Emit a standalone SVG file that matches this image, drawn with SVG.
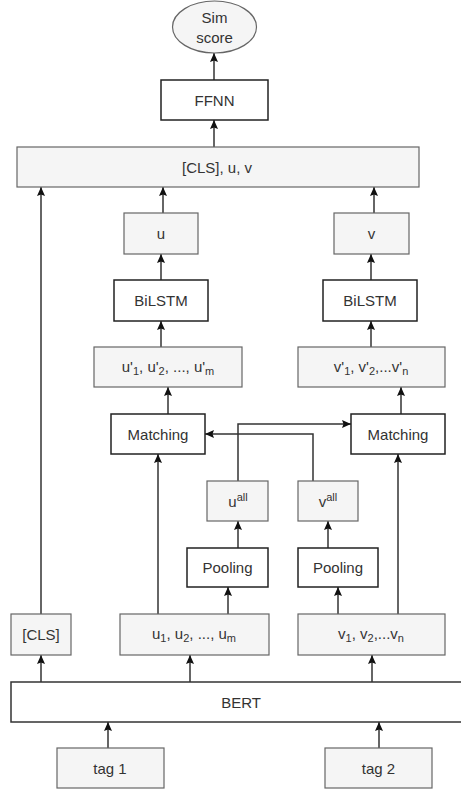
<svg xmlns="http://www.w3.org/2000/svg" width="461" height="789" viewBox="0 0 461 789">
<style>
.g{fill:#f5f5f5;stroke:#666;stroke-width:1.2}
.w{fill:#fff;stroke:#222;stroke-width:1.5}
text{font-family:"Liberation Sans",Arial,sans-serif;font-size:15px;fill:#333;text-anchor:middle}
.s{font-size:11px}
.c path{fill:none;stroke:#333;stroke-width:1.5;marker-end:url(#a)}
</style>
<defs>
<marker id="a" markerUnits="userSpaceOnUse" markerWidth="11" markerHeight="11" refX="10" refY="5.5" orient="auto">
<path d="M1,1.5 L10,5.5 L1,9.5 L2.5,5.5 Z" fill="#111"/>
</marker>
</defs>
<rect width="461" height="789" fill="#fff"/>
<g class="c" id="connectors">
<path d="M214 80V53"/>
<path d="M214 147V120"/>
<path d="M163 213V187"/>
<path d="M374 213V187"/>
<path d="M41 614V187"/>
<path d="M161 280V254"/>
<path d="M161 347V321"/>
<path d="M168 414V387"/>
<path d="M371 280V254"/>
<path d="M371 347V321"/>
<path d="M401 414V387"/>
<path d="M238 481V424H351"/>
<path d="M313 481V434H205"/>
<path d="M238 548V521"/>
<path d="M328 548V521"/>
<path d="M158 614V454"/>
<path d="M228 614V587"/>
<path d="M338 614V587"/>
<path d="M398 614V454"/>
<path d="M41 682V655"/>
<path d="M190 682V655"/>
<path d="M372 682V655"/>
<path d="M108 748V722"/>
<path d="M379 748V722"/>
</g>
<g id="sim"><ellipse class="g" cx="214.5" cy="27" rx="42" ry="26"/><text x="214.5" y="23">Sim</text><text x="214.5" y="43">score</text></g>
<g id="ffnn"><rect class="w" x="161" y="80" width="107" height="40"/><text x="214.5" y="105.5">FFNN</text></g>
<g id="concat"><rect class="g" x="17" y="147" width="402" height="40"/><text x="217" y="172.5">[CLS], u, v</text></g>
<g id="u"><rect class="g" x="124" y="213" width="74" height="41"/><text x="161" y="238.5">u</text></g>
<g id="v"><rect class="g" x="334" y="213" width="75" height="41"/><text x="371.5" y="238.5">v</text></g>
<g id="bilstm1"><rect class="w" x="114" y="280" width="94" height="41"/><text x="161" y="305.5">BiLSTM</text></g>
<g id="bilstm2"><rect class="w" x="323" y="280" width="94" height="41"/><text x="370" y="305.5">BiLSTM</text></g>
<g id="uprime"><rect class="g" x="94" y="347" width="148" height="40"/><text x="168" y="372">u'<tspan class="s" dy="3">1</tspan><tspan dy="-3">, u'</tspan><tspan class="s" dy="3">2</tspan><tspan dy="-3">, ..., u'</tspan><tspan class="s" dy="3">m</tspan></text></g>
<g id="vprime"><rect class="g" x="298" y="347" width="147" height="40"/><text x="371" y="372">v'<tspan class="s" dy="3">1</tspan><tspan dy="-3">, v'</tspan><tspan class="s" dy="3">2</tspan><tspan dy="-3">,...v'</tspan><tspan class="s" dy="3">n</tspan></text></g>
<g id="match1"><rect class="w" x="111" y="414" width="94" height="40"/><text x="158" y="439.5">Matching</text></g>
<g id="match2"><rect class="w" x="351" y="414" width="94" height="40"/><text x="398" y="439.5">Matching</text></g>
<g id="uall"><rect class="g" x="207" y="481" width="61" height="40"/><text x="238" y="507">u<tspan class="s" font-size="12" dy="-6">all</tspan></text></g>
<g id="vall"><rect class="g" x="298" y="481" width="60" height="40"/><text x="328" y="507">v<tspan class="s" font-size="12" dy="-6">all</tspan></text></g>
<g id="pool1"><rect class="w" x="187" y="548" width="81" height="39"/><text x="227.5" y="573">Pooling</text></g>
<g id="pool2"><rect class="w" x="298" y="548" width="80" height="39"/><text x="338" y="573">Pooling</text></g>
<g id="cls"><rect class="g" x="11" y="614" width="60" height="41"/><text x="41" y="639.5">[CLS]</text></g>
<g id="useq"><rect class="g" x="120" y="614" width="149" height="41"/><text x="194" y="639">u<tspan class="s" dy="3">1</tspan><tspan dy="-3">, u</tspan><tspan class="s" dy="3">2</tspan><tspan dy="-3">, ..., u</tspan><tspan class="s" dy="3">m</tspan></text></g>
<g id="vseq"><rect class="g" x="298" y="614" width="147" height="41"/><text x="371" y="639">v<tspan class="s" dy="3">1</tspan><tspan dy="-3">, v</tspan><tspan class="s" dy="3">2</tspan><tspan dy="-3">,...v</tspan><tspan class="s" dy="3">n</tspan></text></g>
<g id="bert"><rect x="11" y="682" width="460" height="40" fill="#fff" stroke="#333" stroke-width="1.5"/><text x="241" y="707.5">BERT</text></g>
<g id="tag1"><rect class="g" x="57" y="748" width="107" height="40"/><text x="110" y="773.5">tag 1</text></g>
<g id="tag2"><rect class="g" x="325" y="748" width="107" height="40"/><text x="378.5" y="773.5">tag 2</text></g>
</svg>
